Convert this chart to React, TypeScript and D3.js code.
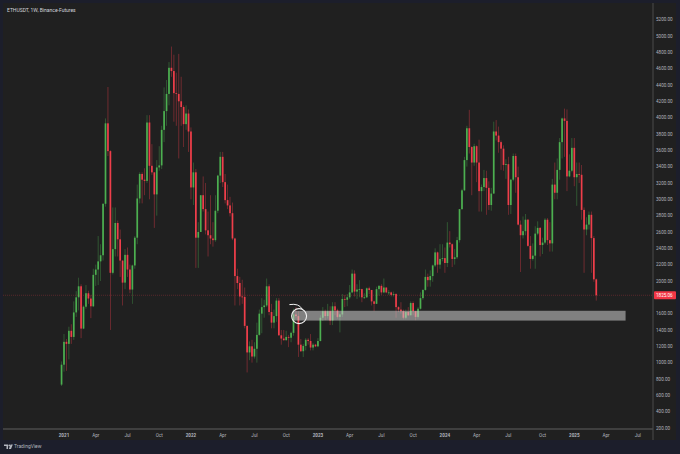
import React, { useEffect, useRef } from 'react';
import * as d3 from 'd3';

// weekly ETHUSDT candles [open, high, low, close], first week starts 2020-12-28
const firstWeek = '2020-12-28';

const ohlc2021: number[][] = [
  [731, 1015, 714, 975], [975, 1350, 890, 1255], [1255, 1290, 900, 1230], [1230, 1440, 1040, 1390],
  [1390, 1470, 1230, 1315], [1315, 1750, 1280, 1615], [1615, 1875, 1560, 1800], [1800, 2040, 1640, 1935],
  [1935, 1960, 1300, 1417], [1417, 1700, 1410, 1685], [1685, 1950, 1660, 1850], [1850, 1880, 1720, 1785],
  [1785, 1830, 1545, 1690], [1690, 2150, 1680, 2075], [2075, 2200, 1940, 2140], [2140, 2550, 1950, 2240],
  [2240, 2450, 2000, 2315], [2315, 2950, 2250, 2945], [2945, 3990, 2910, 3930], [3930, 4375, 3530, 3590],
  [3590, 3600, 1400, 2100], [2100, 2900, 2080, 2390], [2390, 2900, 2300, 2710], [2710, 2740, 2300, 2510],
  [2510, 2630, 2050, 2250], [2250, 2250, 1700, 1980], [1980, 2390, 1900, 2320], [2320, 2410, 2050, 2140],
  [2140, 2200, 1850, 1895], [1895, 2200, 1720, 2190], [2190, 2550, 2150, 2530], [2530, 3180, 2450, 3010],
  [3010, 3330, 2950, 3310], [3310, 3330, 2950, 3240], [3240, 3380, 3050, 3225], [3225, 4030, 3200, 3940],
  [3940, 4030, 3000, 3410], [3410, 3675, 3300, 3330], [3330, 3330, 2650, 3060], [3060, 3480, 2800, 3390],
  [3390, 3650, 3350, 3415], [3415, 3900, 3370, 3850], [3850, 4370, 3700, 4080], [4080, 4460, 3900, 4290],
  [4290, 4680, 4150, 4610], [4610, 4870, 4500, 4570], [4570, 4770, 3950, 4300], [4300, 4550, 3900, 4290],
  [4290, 4780, 3500, 4200], [4200, 4500, 3900, 4130], [4130, 4150, 3640, 3920], [3920, 4150, 3850, 4050],
  [4050, 4100, 3580, 3830],
];

const ohlc2022: number[][] = [
  [3830, 3880, 3000, 3145], [3145, 3450, 2930, 3330], [3330, 3370, 2160, 2530], [2530, 2720, 2160, 2600],
  [2600, 3050, 2600, 3050], [3050, 3280, 2850, 2880], [2880, 3200, 2570, 2620], [2620, 2850, 2300, 2560],
  [2560, 3050, 2450, 2520], [2520, 2720, 2420, 2500], [2500, 3050, 2480, 2860], [2860, 3300, 2830, 3290],
  [3290, 3580, 3200, 3520], [3520, 3580, 3150, 3210], [3210, 3310, 2950, 2990], [2990, 3180, 2880, 2925],
  [2925, 3030, 2790, 2830], [2830, 2960, 2500, 2520], [2520, 2530, 1700, 2060], [2060, 2150, 1900, 1975],
  [1975, 2050, 1700, 1810], [1810, 2015, 1720, 1805], [1805, 1920, 1420, 1450], [1450, 1455, 880, 1125],
  [1125, 1260, 1030, 1200], [1200, 1280, 1000, 1075], [1075, 1250, 1050, 1170], [1170, 1490, 1000, 1340],
  [1340, 1650, 1330, 1600], [1600, 1790, 1360, 1680], [1680, 1770, 1550, 1700], [1700, 2030, 1680, 1935],
  [1935, 1960, 1580, 1620], [1620, 1720, 1420, 1490], [1490, 1650, 1420, 1570], [1570, 1790, 1500, 1760],
  [1760, 1790, 1330, 1335], [1335, 1400, 1220, 1295], [1295, 1400, 1270, 1275], [1275, 1390, 1270, 1315],
  [1315, 1340, 1190, 1305], [1305, 1380, 1250, 1365], [1365, 1660, 1330, 1590], [1590, 1680, 1540, 1570],
  [1570, 1630, 1070, 1220], [1220, 1290, 1130, 1140], [1140, 1230, 1070, 1205], [1205, 1300, 1150, 1280],
  [1280, 1300, 1220, 1265], [1265, 1350, 1150, 1185], [1185, 1240, 1150, 1220], [1220, 1230, 1190, 1200],
];

const ohlc2023: number[][] = [
  [1200, 1300, 1190, 1265], [1265, 1580, 1260, 1550], [1550, 1680, 1510, 1630], [1630, 1650, 1520, 1570],
  [1570, 1720, 1540, 1630], [1630, 1690, 1460, 1515], [1515, 1740, 1460, 1690], [1690, 1740, 1580, 1640],
  [1640, 1660, 1540, 1560], [1560, 1600, 1370, 1590], [1590, 1840, 1560, 1780], [1780, 1830, 1680, 1770],
  [1770, 1840, 1690, 1800], [1800, 1950, 1780, 1860], [1860, 2140, 1850, 2090], [2090, 2130, 1810, 1870],
  [1870, 1960, 1780, 1895], [1895, 2010, 1800, 1900], [1900, 1905, 1740, 1800], [1800, 1850, 1780, 1800],
  [1800, 1920, 1790, 1910], [1910, 1930, 1840, 1890], [1890, 1890, 1700, 1750], [1750, 1760, 1630, 1720],
  [1720, 1930, 1720, 1900], [1900, 1950, 1820, 1940], [1940, 1960, 1830, 1860], [1860, 2030, 1850, 1920],
  [1920, 1920, 1850, 1860], [1860, 1890, 1830, 1860], [1860, 1870, 1810, 1830], [1830, 1870, 1810, 1840],
  [1840, 1850, 1550, 1680], [1680, 1690, 1620, 1650], [1650, 1740, 1600, 1630], [1630, 1650, 1530, 1550],
  [1550, 1650, 1530, 1620], [1620, 1680, 1570, 1580], [1580, 1750, 1580, 1730], [1730, 1750, 1580, 1630],
  [1630, 1630, 1520, 1560], [1560, 1680, 1540, 1660], [1660, 1860, 1650, 1790], [1790, 1900, 1770, 1890],
  [1890, 2140, 1880, 2050], [2050, 2090, 1930, 2010], [2010, 2130, 1930, 2060], [2060, 2200, 1990, 2190],
  [2190, 2400, 2170, 2350], [2350, 2360, 2100, 2200], [2200, 2450, 2150, 2270], [2270, 2450, 2240, 2280],
];

const ohlc2024: number[][] = [
  [2280, 2410, 2100, 2220], [2220, 2720, 2170, 2470], [2470, 2610, 2410, 2450], [2450, 2460, 2170, 2270],
  [2270, 2390, 2200, 2290], [2290, 2540, 2270, 2500], [2500, 2880, 2470, 2880], [2880, 3130, 2870, 3110],
  [3110, 3520, 3100, 3480], [3480, 3900, 3400, 3870], [3870, 4095, 3560, 3640], [3640, 3650, 3050, 3450],
  [3450, 3680, 3410, 3650], [3650, 3660, 3210, 3450], [3450, 3730, 2850, 3100], [3100, 3180, 2850, 3150],
  [3150, 3360, 3100, 3260], [3260, 3350, 2810, 3140], [3140, 3220, 2870, 2930], [2930, 3140, 2860, 3070],
  [3070, 3950, 3070, 3830], [3830, 3970, 3720, 3780], [3780, 3890, 3570, 3700], [3700, 3720, 3360, 3620],
  [3620, 3660, 3350, 3420], [3420, 3490, 3250, 3430], [3430, 3520, 2810, 2930], [2930, 3250, 2820, 3240],
  [3240, 3560, 3220, 3530], [3530, 3560, 3080, 3270], [3270, 3400, 2680, 2690], [2690, 2740, 2110, 2560],
  [2560, 2790, 2520, 2610], [2610, 2820, 2560, 2750], [2750, 2760, 2420, 2430], [2430, 2550, 2150, 2270],
  [2270, 2460, 2250, 2310], [2310, 2670, 2150, 2580], [2580, 2730, 2560, 2650], [2650, 2660, 2300, 2440],
  [2440, 2530, 2330, 2470], [2470, 2770, 2450, 2750], [2750, 2770, 2440, 2500], [2500, 2720, 2360, 2460],
  [2460, 3250, 2360, 3180], [3180, 3450, 3000, 3080], [3080, 3500, 3000, 3360], [3360, 3750, 3240, 3700],
  [3700, 4000, 3500, 3990], [3990, 4110, 3520, 3960], [3960, 4100, 3100, 3280], [3280, 3550, 3270, 3350],
  [3350, 3750, 3330, 3630],
];

const ohlc2025: number[][] = [
  [3630, 3750, 3160, 3270], [3270, 3450, 2920, 3310], [3310, 3450, 3200, 3300], [3300, 3420, 2750, 2870],
  [2870, 2900, 2100, 2630], [2630, 2780, 2560, 2690], [2690, 2850, 2630, 2810], [2810, 2850, 2100, 2525],
  [2525, 2550, 1990, 2020], [2020, 2030, 1760, 1825.06],
];

const priceTicks = d3.range(200, 5201, 200);
const timeTicks: [string, string][] = [
  ['2021-01-04', '2021'], ['2021-04-05', 'Apr'], ['2021-07-05', 'Jul'], ['2021-10-04', 'Oct'],
  ['2022-01-03', '2022'], ['2022-04-04', 'Apr'], ['2022-07-04', 'Jul'], ['2022-10-03', 'Oct'],
  ['2023-01-02', '2023'], ['2023-04-03', 'Apr'], ['2023-07-03', 'Jul'], ['2023-10-02', 'Oct'],
  ['2024-01-01', '2024'], ['2024-04-01', 'Apr'], ['2024-07-01', 'Jul'], ['2024-10-07', 'Oct'],
  ['2025-01-06', '2025'], ['2025-04-07', 'Apr'], ['2025-07-07', 'Jul'],
];
const lastPrice = 1825.06;
const zone = { from: '2022-10-21', to: '2025-06-02', low: 1515, high: 1635 };
const marker = { date: '2022-11-09', price: 1570 };

const UP = '#4caf50';
const DOWN = '#ef3e4a';
const FONT = 'Roboto, "Liberation Sans", sans-serif';

const App: React.FC = () => {
  const svgRef = useRef<SVGSVGElement>(null);

  useEffect(() => {
    if (!svgRef.current) return;
    const svg = d3.select(svgRef.current);
    svg.selectAll('*').remove();

    const width = 680;
    const height = 454;
    const panel = { left: 3, top: 3, right: 676, bottom: 440 };
    const axisX = 653; // price scale separator
    const axisY = 429; // time scale separator

    const parse = d3.utcParse('%Y-%m-%d');
    const start = parse(firstWeek)!;
    const rows = [...ohlc2021, ...ohlc2022, ...ohlc2023, ...ohlc2024, ...ohlc2025];
    const candles = rows.map((r, i) => ({
      date: d3.utcMonday.offset(start, i),
      o: r[0], h: r[1], l: r[2], c: r[3],
    }));

    const x = d3.scaleUtc()
      .domain([parse('2021-01-04')!, parse('2025-01-06')!])
      .range([64, 574.3]);
    const y = d3.scaleLinear().domain([200, 5200]).range([428, 19.6]);

    // frame + panel
    svg.append('rect').attr('width', width).attr('height', height).attr('fill', '#1c1e2b');
    svg.append('rect')
      .attr('x', panel.left).attr('y', panel.top)
      .attr('width', panel.right - panel.left).attr('height', panel.bottom - panel.top)
      .attr('fill', '#202020');

    const plot = svg.append('g');
    const bodyW = 1.7;

    // wicks
    plot.selectAll('line.wick')
      .data(candles)
      .join('line')
      .attr('class', 'wick')
      .attr('x1', d => x(d.date)).attr('x2', d => x(d.date))
      .attr('y1', d => y(d.h)).attr('y2', d => y(d.l))
      .attr('stroke', d => (d.c >= d.o ? UP : DOWN))
      .attr('stroke-width', 0.7)
      .attr('opacity', 0.55);

    // bodies
    plot.selectAll('rect.body')
      .data(candles)
      .join('rect')
      .attr('class', 'body')
      .attr('x', d => x(d.date) - bodyW / 2)
      .attr('y', d => y(Math.max(d.o, d.c)))
      .attr('width', bodyW)
      .attr('height', d => Math.max(0.8, Math.abs(y(d.o) - y(d.c))))
      .attr('fill', d => (d.c >= d.o ? UP : DOWN));

    // last price line
    svg.append('line')
      .attr('x1', panel.left).attr('x2', axisX)
      .attr('y1', y(lastPrice)).attr('y2', y(lastPrice))
      .attr('stroke', DOWN).attr('stroke-width', 0.6)
      .attr('stroke-dasharray', '1,1').attr('opacity', 0.45);

    // support zone
    svg.append('rect')
      .attr('x', x(parse(zone.from)!))
      .attr('y', y(zone.high))
      .attr('width', x(parse(zone.to)!) - x(parse(zone.from)!))
      .attr('height', y(zone.low) - y(zone.high))
      .attr('fill', '#d0d0d0')
      .attr('opacity', 0.55);

    // hand-drawn circle marker
    const mx = x(parse(marker.date)!);
    const my = y(marker.price);
    svg.append('circle')
      .attr('cx', mx).attr('cy', my).attr('r', 7.5)
      .attr('fill', 'none').attr('stroke', '#f2f2f2').attr('stroke-width', 1.1);
    svg.append('path')
      .attr('d', `M${mx - 9.7},${my - 11.5} Q${mx},${my - 13} ${mx + 3},${my - 7}`)
      .attr('fill', 'none').attr('stroke', '#f2f2f2').attr('stroke-width', 1);

    // axis separators
    svg.append('line')
      .attr('x1', axisX).attr('x2', axisX).attr('y1', panel.top).attr('y2', panel.bottom)
      .attr('stroke', '#4a4a4a').attr('stroke-width', 1);
    svg.append('line')
      .attr('x1', panel.left).attr('x2', axisX).attr('y1', axisY).attr('y2', axisY)
      .attr('stroke', '#4a4a4a').attr('stroke-width', 1.6);

    // price labels (the one hidden behind the last-price tag is skipped)
    const ly = y(lastPrice);
    svg.append('g')
      .selectAll('text')
      .data(priceTicks.filter(v => Math.abs(y(v) - ly) > 7))
      .join('text')
      .attr('x', 656)
      .attr('y', d => y(d))
      .attr('dy', '0.35em')
      .attr('font-family', FONT)
      .attr('font-size', 4.6)
      .attr('fill', '#b2b5be')
      .text(d => d.toFixed(2));

    // last price tag
    svg.append('rect')
      .attr('x', 654).attr('y', ly - 4).attr('width', 22).attr('height', 8)
      .attr('rx', 1).attr('fill', '#f23645');
    svg.append('text')
      .attr('x', 656).attr('y', ly).attr('dy', '0.35em')
      .attr('font-family', FONT).attr('font-size', 4.6).attr('fill', '#ffffff')
      .text(lastPrice.toFixed(2));

    // time labels
    svg.append('g')
      .selectAll('text')
      .data(timeTicks)
      .join('text')
      .attr('x', d => x(parse(d[0])!))
      .attr('y', 435)
      .attr('dy', '0.35em')
      .attr('text-anchor', 'middle')
      .attr('font-family', FONT)
      .attr('font-size', 4.6)
      .attr('font-weight', d => (/^\d+$/.test(d[1]) ? 700 : 400))
      .attr('fill', '#b2b5be')
      .text(d => d[1]);

    // title
    svg.append('text')
      .attr('x', 7).attr('y', 10).attr('dy', '0.35em')
      .attr('font-family', FONT).attr('font-size', 5)
      .attr('fill', '#d1d4dc')
      .text('ETHUSDT, 1W, Binance-Futures');

    // TradingView mark
    const logo = svg.append('g').attr('transform', 'translate(4,444.5)').attr('fill', '#b2b5be');
    logo.append('path').attr('d', 'M0,0 H4 V4.5 H2.5 V1.5 H0 Z');
    logo.append('circle').attr('cx', 5.3).attr('cy', 0.9).attr('r', 0.9);
    logo.append('path').attr('d', 'M6.6,0 H8.8 L7,4.5 H4.8 Z');
    svg.append('text')
      .attr('x', 14).attr('y', 446.7).attr('dy', '0.35em')
      .attr('font-family', FONT).attr('font-size', 5)
      .attr('fill', '#b2b5be')
      .text('TradingView');
  }, []);

  return (
    <svg
      ref={svgRef}
      width={680}
      height={454}
      style={{ position: 'absolute', left: 0, top: 0, display: 'block' }}
    />
  );
};

export default App;
